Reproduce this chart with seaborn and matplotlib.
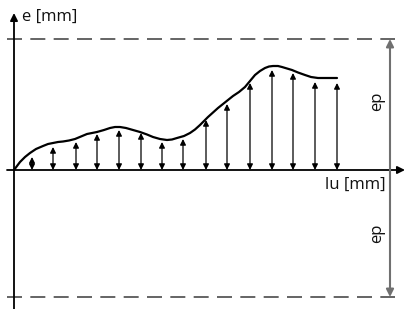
import matplotlib
matplotlib.use('Agg')
import matplotlib.pyplot as plt
import seaborn as sns
import pandas as pd

# --- Data (x along lu, e above the lu axis) ---
curve_x = [14, 17, 20, 25, 30, 36, 43, 48, 53, 58, 63, 69, 75, 81, 87, 92, 97, 104, 110,
           115, 120, 126, 133, 140, 147, 153, 160, 167, 172, 177, 184, 190, 195, 200,
           204, 208, 213, 218, 223, 228, 233, 239, 245, 250, 255, 260, 265, 269, 273,
           278, 282, 287, 292, 298, 305, 311, 318, 327, 337]
curve_e = [0, 4, 8, 13, 17, 21, 24, 26, 27, 28, 28.5, 29.5, 31, 33.5, 36, 37, 38, 40, 42,
           43, 43, 42, 40, 38, 35.5, 33, 31, 30, 30.5, 32, 34, 37, 40.5, 45,
           49, 53, 57.5, 62, 66, 70, 74, 78, 83, 89, 95, 99, 102, 103.5, 104,
           104, 103, 101.5, 100, 97.5, 95, 93, 92, 92, 92]

arrow_x = [32, 53, 76, 97, 119, 141, 162, 183, 206, 227, 250, 272, 293, 315, 337]
arrow_e = [13, 23, 28, 36, 40, 37, 28, 31, 50, 66, 87, 100, 97, 88, 87]

ep_top = 131
ep_bottom = -127

x_label = 'lu [mm]'
y_label = 'e [mm]'
ep_label = 'ep'

curve = pd.DataFrame({'lu': curve_x, 'e': curve_e})

sns.set_style('white')
plt.rcParams['font.family'] = ['Open Sans', 'DejaVu Sans']

fig = plt.figure(figsize=(4.05, 3.09), dpi=100)
ax = fig.add_axes([0, 0, 1, 1])
ax.set_xlim(0, 405)
ax.set_ylim(-139, 170)
ax.axis('off')

# --- dashed ep limits ---
for lim in (ep_top, ep_bottom):
    ax.axhline(lim, xmin=7 / 405, xmax=395 / 405, color='#4a4a4a', lw=1.2, dashes=(9, 5))

# --- axes with arrows ---
ax.annotate('', xy=(405, 0), xytext=(7, 0),
            arrowprops=dict(arrowstyle='-|>', mutation_scale=11, lw=1.3,
                            color='black', shrinkA=0, shrinkB=0))
ax.annotate('', xy=(14, 157), xytext=(14, -139),
            arrowprops=dict(arrowstyle='-|>', mutation_scale=11, lw=1.3,
                            color='black', shrinkA=0, shrinkB=0))

# --- ep double arrow on the right ---
ax.annotate('', xy=(390, ep_top), xytext=(390, ep_bottom),
            arrowprops=dict(arrowstyle='<|-|>', mutation_scale=11, lw=1.5,
                            color='#707070', shrinkA=0, shrinkB=0))

# --- the e(lu) curve ---
sns.lineplot(data=curve, x='lu', y='e', ax=ax, color='black', lw=1.6, sort=False,
             solid_joinstyle='round', solid_capstyle='round')

# --- e arrows between lu axis and the curve ---
for xv, ev in zip(arrow_x, arrow_e):
    ax.annotate('', xy=(xv, ev), xytext=(xv, 0),
                arrowprops=dict(arrowstyle='<|-|>', mutation_scale=8.5, lw=0.9,
                                color='black', shrinkA=0, shrinkB=0))

# --- labels ---
ax.text(22, 153, y_label, fontsize=12, ha='left', va='center', color='#111111')
ax.text(386, -15, x_label, fontsize=12, ha='right', va='center', color='#111111')
ax.text(377, 69, ep_label, fontsize=12, rotation=90, ha='center', va='center', color='#111111')
ax.text(377, -63, ep_label, fontsize=12, rotation=90, ha='center', va='center', color='#111111')

plt.savefig('out.png', dpi=100)
